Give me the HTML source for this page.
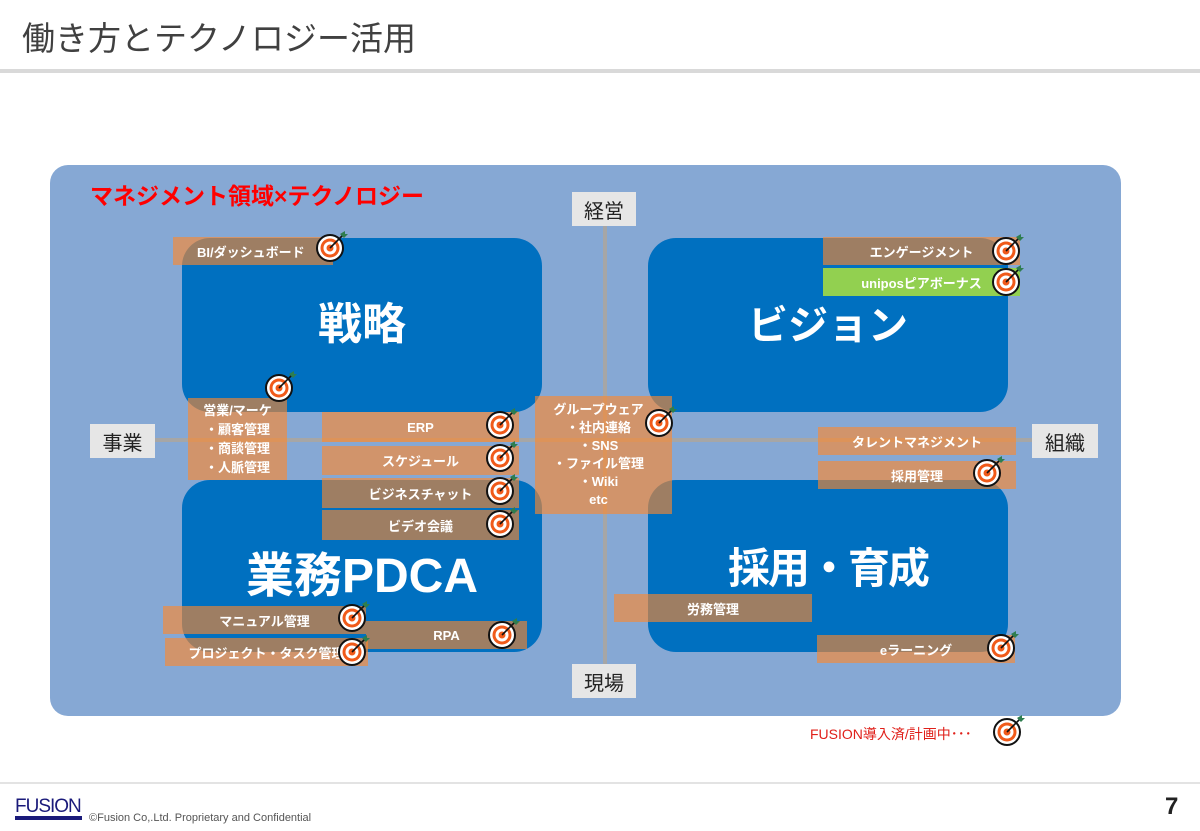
<!DOCTYPE html>
<html><head><meta charset="utf-8"><style>
*{margin:0;padding:0;box-sizing:border-box}
body{width:1200px;height:831px;position:relative;background:#fff;overflow:hidden;font-family:"Liberation Sans","Noto Sans CJK JP",sans-serif}
.a{position:absolute}
.q{position:absolute;background:#0070c0;border-radius:28px}
.qt{position:absolute;color:#fff;font-weight:bold;font-size:44px;text-align:center;line-height:1}
.o{position:absolute;background:rgba(255,136,42,0.62);color:#fff;font-weight:bold;font-size:13px;display:flex;align-items:center;justify-content:center}
.lb{position:absolute;background:#e6e6e6;color:#222;font-size:20px;display:flex;align-items:center;justify-content:center}
svg.t{position:absolute;width:36px;height:36px;overflow:visible}
</style></head><body>
<svg width="0" height="0" style="position:absolute"><defs>
<g id="tg">
<circle cx="14" cy="18" r="13" fill="#fff" stroke="#111" stroke-width="2"/>
<circle cx="14" cy="18" r="9.5" fill="#f05a1a"/>
<circle cx="14" cy="18" r="6.5" fill="#fff"/>
<circle cx="14" cy="18" r="3.5" fill="#f05a1a"/>
<line x1="14" y1="18" x2="27" y2="5" stroke="#111" stroke-width="1.6"/>
<path d="M24 4 L29 1 L29 4 L32 4 L28 8 Z" fill="#2e7d4f"/>
</g></defs></svg>

<div class="a" style="left:22px;top:12px;font-size:33px;color:#404040">働き方とテクノロジー活用</div>
<div class="a" style="left:0;top:69px;width:1200px;height:4px;background:#d9d9d9"></div>

<div class="a" style="left:50px;top:165px;width:1071px;height:551px;background:#86a8d4;border-radius:18px"></div>
<div class="a" style="left:90px;top:177px;font-size:23px;font-weight:bold;color:#ff0000">マネジメント領域×テクノロジー</div>

<div class="a" style="left:603px;top:225px;width:4px;height:440px;background:#a6a6a6"></div>
<div class="a" style="left:155px;top:438px;width:877px;height:4px;background:#a6a6a6"></div>

<div class="q" style="left:182px;top:238px;width:360px;height:174px"></div>
<div class="q" style="left:648px;top:238px;width:360px;height:174px"></div>
<div class="q" style="left:182px;top:480px;width:360px;height:172px"></div>
<div class="q" style="left:648px;top:480px;width:360px;height:172px"></div>
<div class="qt" style="left:182px;top:303px;width:360px">戦略</div>
<div class="qt" style="left:648px;top:306px;width:360px;font-size:40px">ビジョン</div>
<div class="qt" style="left:182px;top:553px;width:360px;font-size:48px">業務PDCA</div>
<div class="qt" style="left:648px;top:548px;width:360px;font-size:42px;letter-spacing:-2px">採用・育成</div>

<div class="lb" style="left:572px;top:192px;width:64px;height:34px">経営</div>
<div class="lb" style="left:90px;top:424px;width:65px;height:34px">事業</div>
<div class="lb" style="left:1032px;top:424px;width:66px;height:34px">組織</div>
<div class="lb" style="left:572px;top:664px;width:64px;height:34px">現場</div>

<div class="o" style="left:173px;top:237px;width:160px;height:28px;justify-content:flex-start;padding-left:24px">BI/ダッシュボード</div>
<div class="o" style="left:188px;top:398px;width:99px;height:82px;flex-direction:column;line-height:19px">営業/マーケ<span>・顧客管理</span><span>・商談管理</span><span>・人脈管理</span></div>
<div class="o" style="left:322px;top:412px;width:197px;height:30px">ERP</div>
<div class="o" style="left:322px;top:446px;width:197px;height:29px">スケジュール</div>
<div class="o" style="left:322px;top:478px;width:197px;height:30px">ビジネスチャット</div>
<div class="o" style="left:322px;top:510px;width:197px;height:30px">ビデオ会議</div>
<div class="o" style="left:535px;top:396px;width:137px;height:118px;flex-direction:column;line-height:18px;padding-right:10px">グループウェア<span>・社内連絡</span><span>・SNS</span><span>・ファイル管理</span><span>・Wiki</span><span>etc</span></div>
<div class="o" style="left:823px;top:237px;width:197px;height:28px">エンゲージメント</div>
<div class="o" style="left:823px;top:268px;width:197px;height:28px;background:#92d050">uniposピアボーナス</div>
<div class="o" style="left:818px;top:427px;width:198px;height:28px">タレントマネジメント</div>
<div class="o" style="left:818px;top:461px;width:198px;height:28px">採用管理</div>
<div class="o" style="left:614px;top:594px;width:198px;height:28px">労務管理</div>
<div class="o" style="left:817px;top:635px;width:198px;height:28px">eラーニング</div>
<div class="o" style="left:163px;top:606px;width:203px;height:28px">マニュアル管理</div>
<div class="o" style="left:165px;top:638px;width:203px;height:28px">プロジェクト・タスク管理</div>
<div class="o" style="left:366px;top:621px;width:161px;height:28px">RPA</div>

<svg class="t" style="left:316px;top:230px"><use href="#tg"/></svg>
<svg class="t" style="left:265px;top:370px"><use href="#tg"/></svg>
<svg class="t" style="left:486px;top:407px"><use href="#tg"/></svg>
<svg class="t" style="left:486px;top:440px"><use href="#tg"/></svg>
<svg class="t" style="left:486px;top:473px"><use href="#tg"/></svg>
<svg class="t" style="left:486px;top:506px"><use href="#tg"/></svg>
<svg class="t" style="left:645px;top:405px"><use href="#tg"/></svg>
<svg class="t" style="left:992px;top:233px"><use href="#tg"/></svg>
<svg class="t" style="left:992px;top:264px"><use href="#tg"/></svg>
<svg class="t" style="left:973px;top:455px"><use href="#tg"/></svg>
<svg class="t" style="left:987px;top:630px"><use href="#tg"/></svg>
<svg class="t" style="left:338px;top:600px"><use href="#tg"/></svg>
<svg class="t" style="left:338px;top:634px"><use href="#tg"/></svg>
<svg class="t" style="left:488px;top:617px"><use href="#tg"/></svg>
<svg class="t" style="left:993px;top:714px"><use href="#tg"/></svg>

<div class="a" style="left:810px;top:724px;font-size:14px;color:#e0201a">FUSION導入済/計画中･･･</div>

<div class="a" style="left:0;top:782px;width:1200px;height:2px;background:#e3e3e3"></div>
<div class="a" style="left:15px;top:797px;font-size:19px;color:#1a1a7a;letter-spacing:-1px;line-height:1">FUSION</div>
<div class="a" style="left:15px;top:816px;width:67px;height:4px;background:#1a1a7a"></div>
<div class="a" style="left:89px;top:812px;font-size:11px;color:#555">©Fusion Co,.Ltd. Proprietary and Confidential</div>
<div class="a" style="left:1165px;top:793px;font-size:24px;font-weight:bold;color:#222">7</div>
</body></html>
